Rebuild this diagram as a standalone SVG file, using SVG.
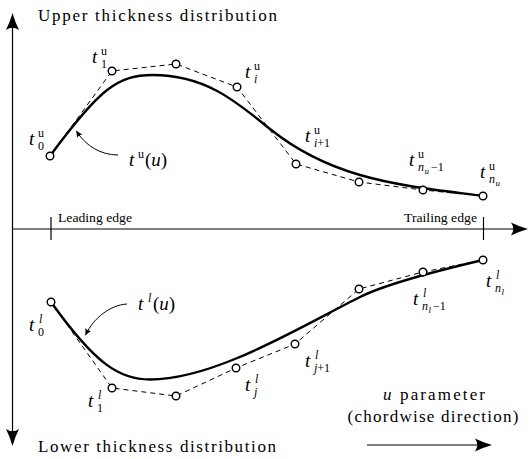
<svg xmlns="http://www.w3.org/2000/svg" width="530" height="459" viewBox="0 0 530 459" font-family="'Liberation Serif', 'DejaVu Serif', serif">
<style>
text{font-family:'Liberation Serif','DejaVu Serif',serif;fill:#000}
.m{font-size:19px;font-style:italic}
.r{font-size:19px}
.s{font-size:12px}
.si{font-size:12px;font-style:italic}
.ss{font-size:9px;font-style:italic}
.big{font-size:17px}
.small{font-size:11.5px}
.axis{stroke:#000;stroke-width:1.2;fill:none}
.poly{stroke:#000;stroke-width:1;fill:none;stroke-dasharray:5 4}
.curve{stroke:#000;stroke-width:2.4;fill:none;stroke-linecap:round}
.note{stroke:#000;stroke-width:1;fill:none}
.pt{fill:#fff;stroke:#000;stroke-width:1.4}
</style>
<defs>
<marker id="ah" markerUnits="userSpaceOnUse" viewBox="-18 -7 19 14" refX="-6" refY="0" markerWidth="19" markerHeight="14" orient="auto-start-reverse" overflow="visible">
<path d="M0,0 Q-9,-2.5 -17,-6.5 Q-12.5,0 -17,6.5 Q-9,2.5 0,0 Z" fill="#000"/>
</marker>
<marker id="sh" markerUnits="userSpaceOnUse" viewBox="-8 -4 9 8" refX="-2" refY="0" markerWidth="9" markerHeight="8" orient="auto" overflow="visible">
<path d="M0,0 Q-3.5,-1 -7,-3.2 Q-5,0 -7,3.2 Q-3.5,1 0,0 Z" fill="#000"/>
</marker>
</defs>
<rect width="530" height="459" fill="#fff"/>

<g id="axes">
<line class="axis" x1="12.5" y1="19" x2="12.5" y2="440" marker-start="url(#ah)" marker-end="url(#ah)"/>
<line class="axis" x1="12" y1="229" x2="522" y2="229" marker-end="url(#ah)"/>
<line class="axis" x1="51" y1="217" x2="51" y2="240"/>
<line class="axis" x1="483.5" y1="217" x2="483.5" y2="240"/>
<text class="small" x="58" y="222" textLength="74" lengthAdjust="spacingAndGlyphs">Leading edge</text>
<text class="small" x="404" y="222" textLength="73" lengthAdjust="spacingAndGlyphs">Trailing edge</text>
<text class="big" x="38" y="21" textLength="239">Upper thickness distribution</text>
<text class="big" x="38" y="452" textLength="238">Lower thickness distribution</text>
<text class="big" x="383" y="400" textLength="102"><tspan font-style="italic">u</tspan> parameter</text>
<text class="big" x="433" y="422" text-anchor="middle" textLength="171">(chordwise direction)</text>
<line class="axis" x1="367" y1="445" x2="486" y2="445" marker-end="url(#ah)"/>
</g>

<g id="connectors">
<polyline class="poly" points="50,156 112,71 176,64 237,87 296,164 359,182 423,190 483,196"/>
<polyline class="poly" points="51,302 112,388 176,396 236,368 295,344 359,289 423,272 483,260"/>
<path class="curve" d="M50,156 C100,88 118,75 153,75 C208,75 240,105 270,129 C300,153 330,166.3 360,175 C400,186.6 443,190.7 483,196"/>
<path class="curve" d="M51,302 C96,365 120,379.5 150,379.5 C215,379.5 300,327 360,297 C390,282 448,268.2 483,260"/>
<path class="note" d="M118,155 C101,155 86,146 77,132" marker-end="url(#sh)"/>
<path class="note" d="M127,304 C110,305 94,318 86,334" marker-end="url(#sh)"/>
</g>

<g id="upper-curve-label">
<text x="129" y="166"><tspan class="m">t</tspan><tspan class="s" x="138" y="158">u</tspan><tspan class="r" x="145" y="166">(</tspan><tspan class="m">u</tspan><tspan class="r">)</tspan></text>
</g>
<g id="lower-curve-label">
<text x="138" y="310"><tspan class="m">t</tspan><tspan class="si" x="148" y="302">l</tspan><tspan class="r" x="153" y="310">(</tspan><tspan class="m">u</tspan><tspan class="r">)</tspan></text>
</g>

<g id="tu0"><circle class="pt" cx="50" cy="156" r="3.8"/>
<text><tspan class="m" x="29" y="145">t</tspan><tspan class="s" x="38" y="137">u</tspan><tspan class="s" x="38" y="150">0</tspan></text></g>
<g id="tu1"><circle class="pt" cx="112" cy="71" r="3.8"/>
<text><tspan class="m" x="92" y="63">t</tspan><tspan class="s" x="101" y="55">u</tspan><tspan class="s" x="101" y="68">1</tspan></text></g>
<g id="tu2"><circle class="pt" cx="176" cy="64" r="3.8"/></g>
<g id="tui"><circle class="pt" cx="237" cy="87" r="3.8"/>
<text><tspan class="m" x="245" y="78">t</tspan><tspan class="s" x="254" y="70">u</tspan><tspan class="si" x="254" y="83">i</tspan></text></g>
<g id="tui1"><circle class="pt" cx="296" cy="164" r="3.8"/>
<text><tspan class="m" x="305" y="142">t</tspan><tspan class="s" x="314" y="134">u</tspan><tspan class="si" x="314" y="147">i</tspan><tspan class="s">+1</tspan></text></g>
<g id="tu5"><circle class="pt" cx="359" cy="182" r="3.8"/></g>
<g id="tunm1"><circle class="pt" cx="423" cy="190" r="3.8"/>
<text><tspan class="m" x="409" y="166">t</tspan><tspan class="s" x="418" y="158">u</tspan><tspan class="si" x="418" y="171">n</tspan><tspan class="ss" x="424.5" y="174">u</tspan><tspan class="s" x="431" y="171">−1</tspan></text></g>
<g id="tun"><circle class="pt" cx="483" cy="196" r="3.8"/>
<text><tspan class="m" x="480" y="178">t</tspan><tspan class="s" x="489" y="170">u</tspan><tspan class="si" x="489" y="183">n</tspan><tspan class="ss" x="495.5" y="186">u</tspan></text></g>

<g id="tl0"><circle class="pt" cx="51" cy="302" r="3.8"/>
<text><tspan class="m" x="29" y="331">t</tspan><tspan class="si" x="39" y="323">l</tspan><tspan class="s" x="38" y="336">0</tspan></text></g>
<g id="tl1"><circle class="pt" cx="112" cy="388" r="3.8"/>
<text><tspan class="m" x="88" y="407">t</tspan><tspan class="si" x="98" y="399">l</tspan><tspan class="s" x="97" y="412">1</tspan></text></g>
<g id="tl2"><circle class="pt" cx="176" cy="396" r="3.8"/></g>
<g id="tlj"><circle class="pt" cx="236" cy="368" r="3.8"/>
<text><tspan class="m" x="245" y="391">t</tspan><tspan class="si" x="255" y="383">l</tspan><tspan class="si" x="254" y="396">j</tspan></text></g>
<g id="tlj1"><circle class="pt" cx="295" cy="344" r="3.8"/>
<text><tspan class="m" x="305" y="367">t</tspan><tspan class="si" x="315" y="359">l</tspan><tspan class="si" x="314" y="372">j</tspan><tspan class="s">+1</tspan></text></g>
<g id="tl5"><circle class="pt" cx="359" cy="289" r="3.8"/></g>
<g id="tlnm1"><circle class="pt" cx="423" cy="272" r="3.8"/>
<text><tspan class="m" x="413" y="305">t</tspan><tspan class="si" x="423" y="297">l</tspan><tspan class="si" x="422" y="310">n</tspan><tspan class="ss" x="428.5" y="313">l</tspan><tspan class="s" x="433" y="310">−1</tspan></text></g>
<g id="tln"><circle class="pt" cx="483" cy="260" r="3.8"/>
<text><tspan class="m" x="486" y="287">t</tspan><tspan class="si" x="496" y="279">l</tspan><tspan class="si" x="495" y="292">n</tspan><tspan class="ss" x="501.5" y="295">l</tspan></text></g>
</svg>
